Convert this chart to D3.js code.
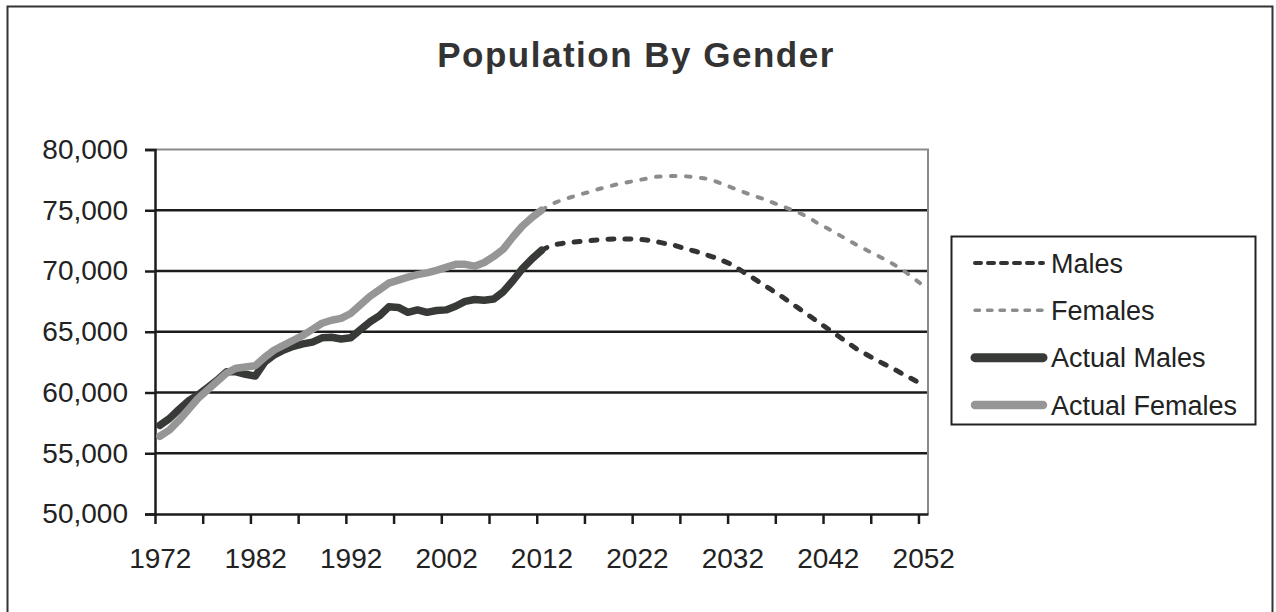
<!DOCTYPE html>
<html lang="en">
<head>
<meta charset="UTF-8">
<title>Population By Gender</title>
<script src="https://d3js.org/d3.v7.min.js"></script>
<style>
    body {
        margin: 0;
        background: #fff;
    }
    text {
        font-family: "Liberation Sans", Arial, sans-serif;
    }
    .title {
        font-size: 35px;
        font-weight: bold;
        fill: #333;
        letter-spacing: 1.5px;
    }
    .legend_label {
        font-size: 27px;
        fill: #222;
    }
</style>
</head>
<body>
<svg id="chart" width="1276" height="612"></svg>
<script>
    // categories
    let years = [1972, 1973, 1974, 1975, 1976, 1977, 1978, 1979, 1980, 1981,
        1982, 1983, 1984, 1985, 1986, 1987, 1988, 1989, 1990, 1991,
        1992, 1993, 1994, 1995, 1996, 1997, 1998, 1999, 2000, 2001,
        2002, 2003, 2004, 2005, 2006, 2007, 2008, 2009, 2010, 2011,
        2012, 2013, 2014, 2015, 2016, 2017, 2018, 2019, 2020, 2021,
        2022, 2023, 2024, 2025, 2026, 2027, 2028, 2029, 2030, 2031,
        2032, 2033, 2034, 2035, 2036, 2037, 2038, 2039, 2040, 2041,
        2042, 2043, 2044, 2045, 2046, 2047, 2048, 2049, 2050, 2051, 2052]
    let labelYears = [1972, 1982, 1992, 2002, 2012, 2022, 2032, 2042, 2052]
    let yTicks = [50000, 55000, 60000, 65000, 70000, 75000, 80000]

    // 1972 - 2012
    let actualMales = [57300, 57850, 58600, 59300, 59800, 60400, 61000, 61700, 61700, 61500,
        61350, 62500, 63100, 63500, 63800, 64000, 64150, 64500, 64550, 64400,
        64500, 65150, 65800, 66300, 67050, 67000, 66600, 66800, 66600, 66750,
        66800, 67100, 67500, 67650, 67600, 67700, 68300, 69200, 70200, 71000, 71700]
    let actualFemales = [56400, 56900, 57700, 58600, 59500, 60200, 60900, 61600, 62000, 62100,
        62200, 62900, 63500, 63900, 64300, 64700, 65200, 65700, 65950, 66100,
        66500, 67200, 67900, 68450, 69000, 69250, 69500, 69700, 69850, 70050,
        70300, 70550, 70550, 70400, 70700, 71200, 71800, 72800, 73700, 74400, 75000]

    // 2012 - 2052 projections
    let males = [71700, 72100, 72250, 72350, 72420, 72500, 72570, 72620, 72640, 72640,
        72620, 72550, 72430, 72250, 72100, 71850, 71650, 71400, 71150, 70850,
        70500, 70000, 69500, 69000, 68500, 68000, 67450, 66900, 66350, 65800,
        65250, 64700, 64150, 63600, 63150, 62700, 62300, 61900, 61450, 61050, 60600]
    let females = [75000, 75500, 75800, 76050, 76300, 76500, 76750, 76950, 77150, 77300,
        77450, 77600, 77750, 77800, 77820, 77800, 77720, 77640, 77450, 77150,
        76850, 76550, 76250, 76000, 75700, 75400, 75100, 74800, 74400, 73900,
        73500, 73050, 72600, 72150, 71750, 71350, 70950, 70500, 70000, 69400, 68800]

    let actualYears = years.slice(0, actualMales.length)
    let projYears = years.slice(years.length - males.length)

    let series = [
        {name: "Males", years: projYears, values: males, color: "#333", width: 5, dash: "6,11", legendDash: "6,7", legendWidth: 4},
        {name: "Females", years: projYears, values: females, color: "#8c8c8c", width: 4, dash: "4.5,10.5", legendDash: "4.5,8", legendWidth: 3.5},
        {name: "Actual Males", years: actualYears, values: actualMales, color: "#383a38", width: 7.5, dash: null, legendWidth: 9},
        {name: "Actual Females", years: actualYears, values: actualFemales, color: "#969696", width: 7.5, dash: null, legendWidth: 8.5}
    ]

    let svg = d3.select("#chart")
    let plot = {left: 155, right: 928, top: 149.5, bottom: 514}

    // chart border
    svg.append("rect")
        .attr("x", 7.5).attr("y", 6.5)
        .attr("width", 1265).attr("height", 640)
        .attr("fill", "none").attr("stroke", "#333").attr("stroke-width", 2)

    svg.append("text")
        .attr("class", "title")
        .attr("x", 636).attr("y", 67)
        .attr("text-anchor", "middle")
        .text("Population By Gender")

    // category axis: each year gets its own slot, ticks on slot boundaries
    let x = d3.scaleLinear()
        .domain([years[0] - 0.5, years[years.length - 1] + 0.5])
        .range([plot.left, plot.right])
    let y = d3.scaleLinear()
        .domain([50000, 80000])
        .range([plot.bottom, plot.top])

    // gridlines
    svg.append("g")
        .selectAll("line")
        .data(yTicks.slice(1, -1))
        .join("line")
        .attr("x1", plot.left).attr("x2", plot.right)
        .attr("y1", d => y(d)).attr("y2", d => y(d))
        .attr("stroke", "#1c1c1c").attr("stroke-width", 2.5)

    // plot area border (top/right)
    svg.append("path")
        .attr("d", `M${plot.left},${plot.top}H${plot.right}V${plot.bottom}`)
        .attr("fill", "none").attr("stroke", "#8a8a8a").attr("stroke-width", 2)

    let yAxis = svg.append("g")
        .attr("transform", `translate(${plot.left},0)`)
        .call(d3.axisLeft(y).tickValues(yTicks).tickSize(10).tickPadding(17).tickFormat(d3.format(",")))
    yAxis.select(".domain").attr("stroke-width", 2.5).attr("stroke", "#1c1c1c")
    yAxis.selectAll(".tick line").attr("stroke-width", 2.5).attr("stroke", "#1c1c1c")
    yAxis.selectAll(".tick text")
        .attr("font-size", 28).attr("fill", "#222")
        .attr("font-family", "Liberation Sans, Arial, sans-serif")

    let boundaries = years.filter((d, i) => i % 5 === 0).map(d => d - 0.5)
    let xAxis = svg.append("g")
        .attr("transform", `translate(0,${plot.bottom})`)
        .call(d3.axisBottom(x).tickValues(boundaries).tickSize(10).tickSizeOuter(0).tickFormat(""))
    xAxis.select(".domain").attr("stroke-width", 2.5).attr("stroke", "#1c1c1c")
    xAxis.selectAll(".tick line").attr("stroke-width", 2.5).attr("stroke", "#1c1c1c")

    let xLabels = svg.append("g")
        .attr("transform", `translate(0,${plot.bottom})`)
        .call(d3.axisBottom(x).tickValues(labelYears).tickSize(0).tickPadding(34).tickFormat(d3.format("d")))
    xLabels.select(".domain").remove()
    xLabels.selectAll(".tick text")
        .attr("font-size", 28).attr("fill", "#222")
        .attr("font-family", "Liberation Sans, Arial, sans-serif")

    let line = d3.line()
        .x(d => x(d[0]))
        .y(d => y(d[1]))

    svg.append("g")
        .selectAll("path")
        .data(series)
        .join("path")
        .attr("d", s => line(s.years.map((yr, i) => [yr, s.values[i]])))
        .attr("fill", "none")
        .attr("stroke", s => s.color)
        .attr("stroke-width", s => s.width)
        .attr("stroke-dasharray", s => s.dash)
        .attr("stroke-linecap", "round")
        .attr("stroke-linejoin", "round")

    // legend
    let legend = svg.append("g")
    legend.append("rect")
        .attr("x", 951.5).attr("y", 236.5)
        .attr("width", 304).attr("height", 188)
        .attr("fill", "#fff").attr("stroke", "#222").attr("stroke-width", 2)

    let rowY = d3.scalePoint().domain(series.map(s => s.name)).range([263, 405])
    let rows = legend.selectAll(".row")
        .data(series)
        .join("g")
        .attr("transform", s => `translate(0,${rowY(s.name)})`)
    rows.append("line")
        .attr("x1", 975).attr("x2", 1043)
        .attr("stroke", s => s.color)
        .attr("stroke-width", s => s.legendWidth)
        .attr("stroke-dasharray", s => s.legendDash || null)
        .attr("stroke-linecap", "round")
    rows.append("text")
        .attr("class", "legend_label")
        .attr("x", 1051).attr("dy", "0.36em")
        .text(s => s.name)
</script>
</body>
</html>
